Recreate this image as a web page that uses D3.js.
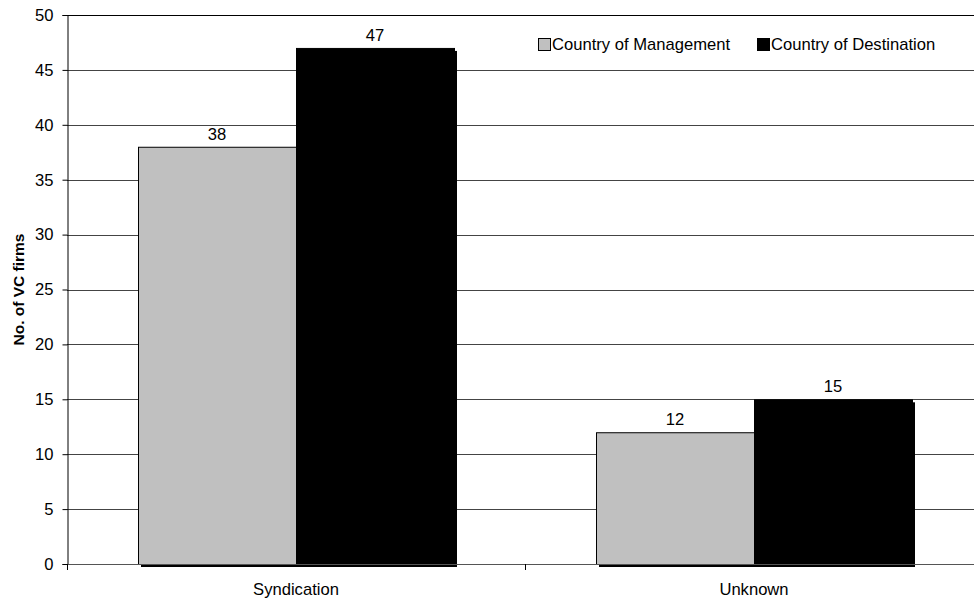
<!DOCTYPE html>
<html>
<head>
<meta charset="utf-8">
<script src="https://cdn.jsdelivr.net/npm/d3@7"></script>
<style>
  body { margin: 0; background: #fff; }
  svg { display: block; font-family: "Liberation Sans", Arial, sans-serif; }
</style>
</head>
<body>
<svg id="chart" width="974" height="599"></svg>
<script>
// Categories, series and values
const categories = ["Syndication", "Unknown"];
const seriesNames = ["Country of Management", "Country of Destination"];
const management = [38, 12];
const destination = [47, 15];
const yTicks = [0, 5, 10, 15, 20, 25, 30, 35, 40, 45, 50];
const seriesColors = ["#c0c0c0", "#000000"];

const svg = d3.select("#chart");
const margin = { left: 67, top: 15, right: -9, bottom: 35 };
const W = 974, H = 599;
const plotRight = W - margin.right;
const plotBottom = H - margin.bottom;
const fontSize = 16.6;

const y = d3.scaleLinear().domain([0, 50]).range([plotBottom, margin.top]);
const x0 = d3.scaleBand().domain(categories).range([margin.left, plotRight]).paddingInner(0).paddingOuter(0);
const barW = 158;
const x1 = d3.scaleBand().domain(seriesNames).range([x0.bandwidth() / 2 - barW, x0.bandwidth() / 2 + barW]);

// Gridlines
svg.append("g").selectAll("line").data(yTicks).join("line")
  .attr("x1", margin.left).attr("x2", plotRight)
  .attr("y1", d => Math.round(y(d)) + 0.5).attr("y2", d => Math.round(y(d)) + 0.5)
  .attr("stroke", d => d === 50 ? "#000" : "#444").attr("stroke-width", 1);

// Bars
const rows = categories.map((c, i) => ({ cat: c, vals: [management[i], destination[i]] }));
const groups = svg.append("g").selectAll("g").data(rows).join("g")
  .attr("transform", d => `translate(${x0(d.cat)},0)`);

const items = d => d.vals.map((v, j) => ({ v, s: seriesNames[j], j }));

// drop shadows
groups.selectAll("rect.shadow").data(items).join("rect").attr("class", "shadow")
  .attr("x", d => x1(d.s) + 3).attr("y", d => y(d.v) + 3)
  .attr("width", x1.bandwidth()).attr("height", d => plotBottom - y(d.v))
  .attr("fill", "#000");

groups.selectAll("rect.bar").data(items).join("rect").attr("class", "bar")
  .attr("x", d => x1(d.s) + 0.5).attr("y", d => y(d.v) + 0.5)
  .attr("width", x1.bandwidth()).attr("height", d => plotBottom - y(d.v))
  .attr("fill", d => seriesColors[d.j]).attr("stroke", "#000").attr("stroke-width", 1);

// Value labels
groups.selectAll("text").data(items).join("text")
  .attr("x", d => x1(d.s) + x1.bandwidth() / 2).attr("y", d => y(d.v) - 7)
  .attr("text-anchor", "middle").attr("font-size", fontSize).attr("fill", "#000")
  .text(d => d.v);

// Y axis
const yAxis = d3.axisLeft(y).tickValues(yTicks).tickSize(5).tickPadding(9);
const yg = svg.append("g").attr("transform", `translate(${margin.left + 0.5},0)`).call(yAxis);
yg.select(".domain").attr("stroke", "#000");
yg.selectAll(".tick line").attr("stroke", "#000");
yg.selectAll("text").attr("font-size", fontSize).attr("fill", "#000").attr("font-family", "Liberation Sans, Arial, sans-serif");

// X axis baseline with category ticks between groups
const xg = svg.append("g");
xg.append("line").attr("x1", margin.left).attr("x2", plotRight)
  .attr("y1", plotBottom + 0.5).attr("y2", plotBottom + 0.5).attr("stroke", "#555");
xg.selectAll("line.tick").data(categories.slice(1)).join("line").attr("class", "tick")
  .attr("x1", d => Math.round(x0(d)) + 0.5).attr("x2", d => Math.round(x0(d)) + 0.5)
  .attr("y1", plotBottom).attr("y2", plotBottom + 6).attr("stroke", "#000");
xg.append("line").attr("x1", margin.left + 0.5).attr("x2", margin.left + 0.5)
  .attr("y1", plotBottom).attr("y2", plotBottom + 6).attr("stroke", "#000");
xg.selectAll("text").data(categories).join("text")
  .attr("x", d => x0(d) + x0.bandwidth() / 2).attr("y", plotBottom + 31)
  .attr("text-anchor", "middle").attr("font-size", fontSize).attr("fill", "#000")
  .text(d => d);

// Y axis title
svg.append("text")
  .attr("transform", `translate(24,${(margin.top + plotBottom) / 2}) rotate(-90)`)
  .attr("text-anchor", "middle").attr("font-size", 15.5).attr("font-weight", "bold")
  .text("No. of VC firms");

// Legend
const legend = svg.append("g");
const legendX = [538, 757];
seriesNames.forEach((s, i) => {
  legend.append("rect").attr("x", legendX[i] + 0.5).attr("y", 38.5).attr("width", 12).attr("height", 12)
    .attr("fill", seriesColors[i]).attr("stroke", "#000");
  legend.append("text").attr("x", legendX[i] + 14).attr("y", 50)
    .attr("font-size", fontSize).attr("fill", "#000").text(s);
});
</script>
</body>
</html>
